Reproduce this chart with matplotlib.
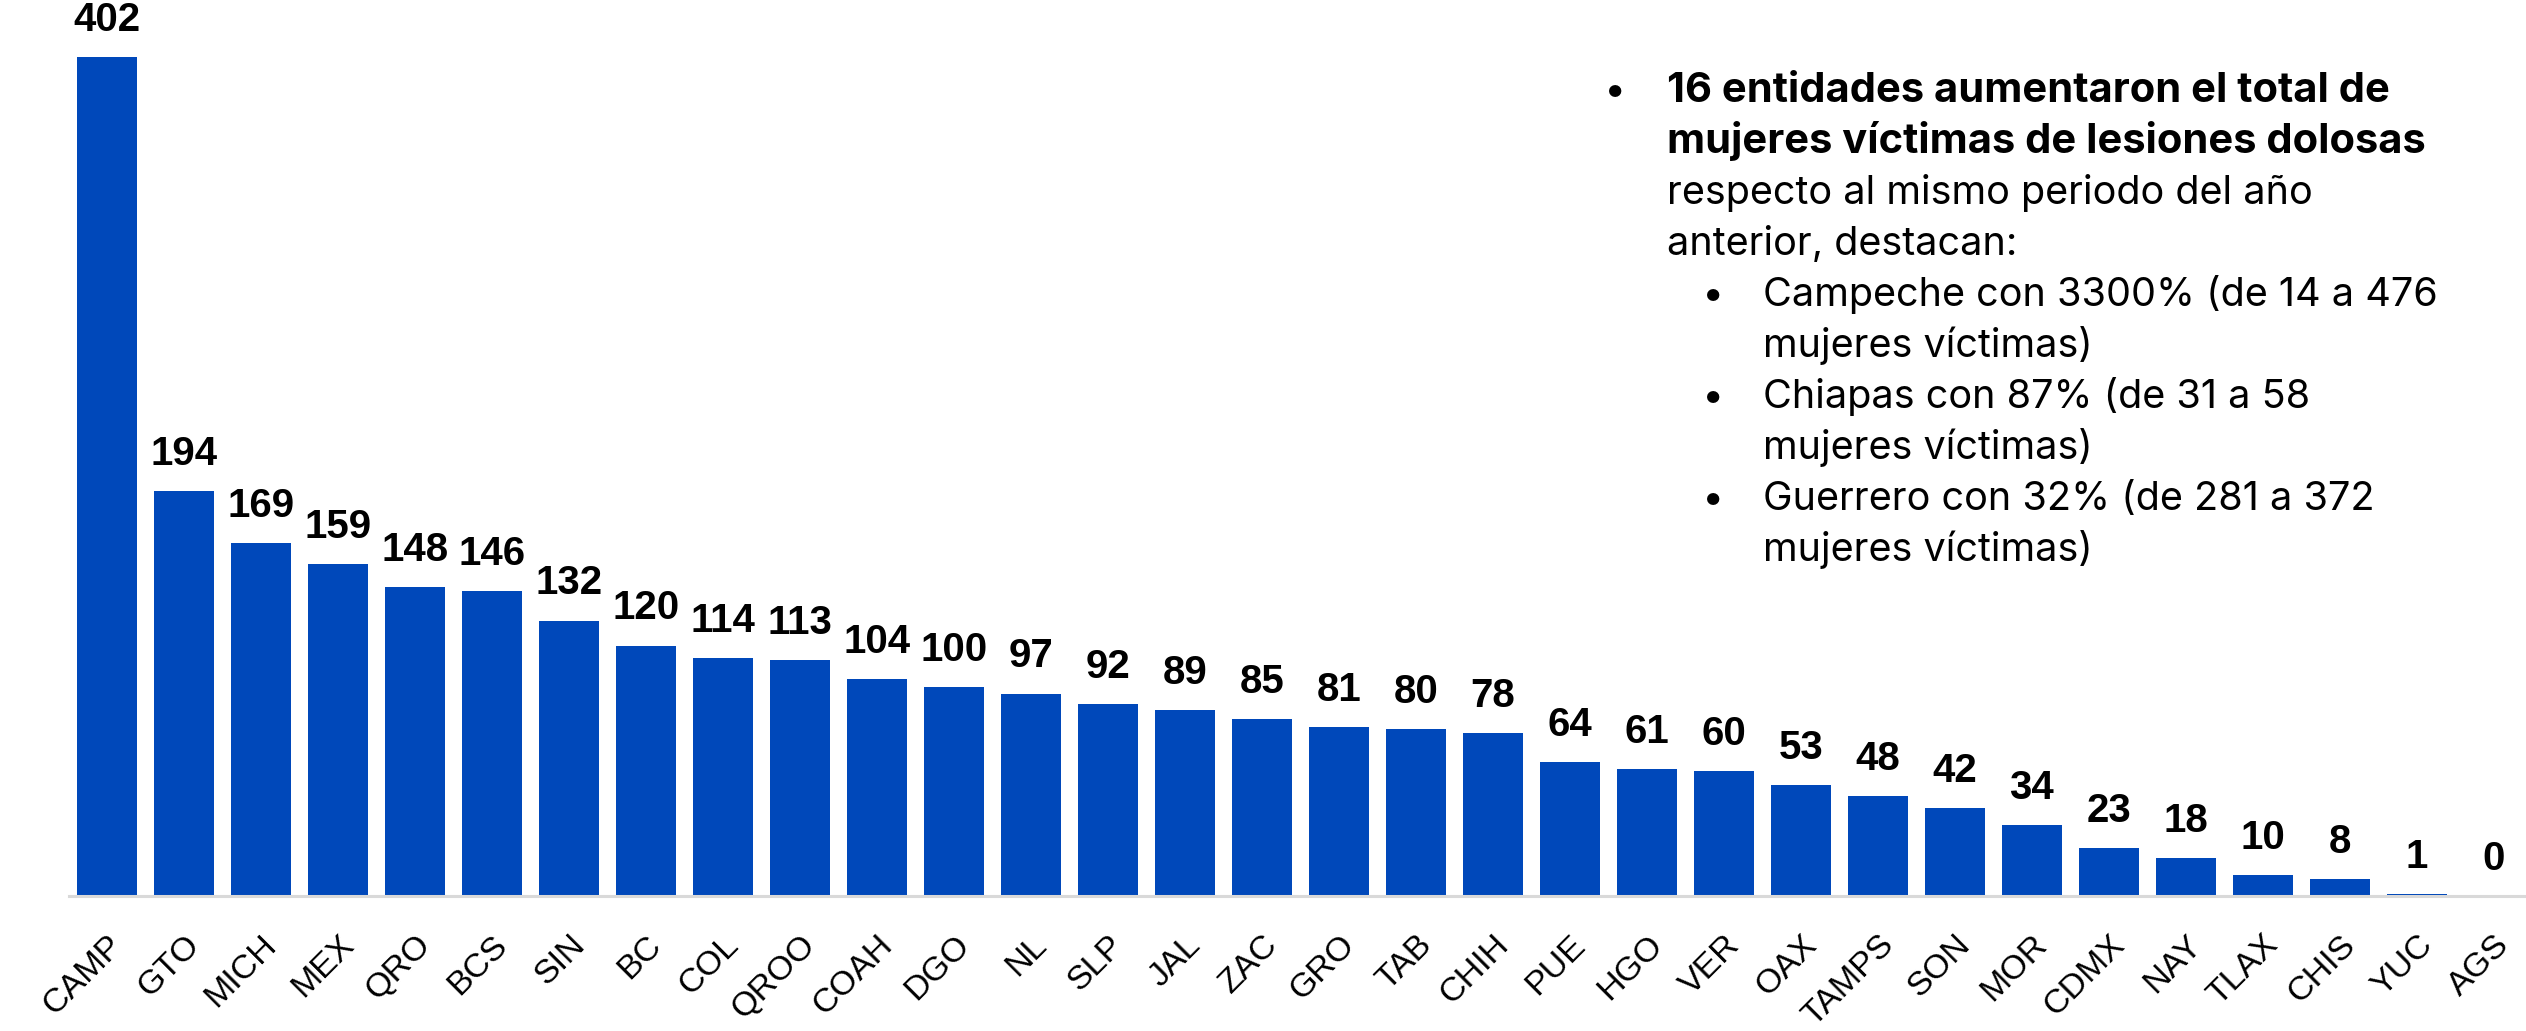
import matplotlib
matplotlib.use("Agg")
import matplotlib.pyplot as plt

# ---- data ----
states = ["CAMP", "GTO", "MICH", "MEX", "QRO", "BCS", "SIN", "BC", "COL", "QROO",
          "COAH", "DGO", "NL", "SLP", "JAL", "ZAC", "GRO", "TAB", "CHIH", "PUE",
          "HGO", "VER", "OAX", "TAMPS", "SON", "MOR", "CDMX", "NAY", "TLAX", "CHIS",
          "YUC", "AGS"]
values = [402, 194, 169, 159, 148, 146, 132, 120, 114, 113,
          104, 100, 97, 92, 89, 85, 81, 80, 78, 64,
          61, 60, 53, 48, 42, 34, 23, 18, 10, 8,
          1, 0]

note_bold = ["16 entidades aumentaron el total de",
             "mujeres víctimas de lesiones dolosas"]
note_plain = ["respecto al mismo periodo del año",
              "anterior, destacan:"]
sub_items = [["Campeche con 3300% (de 14 a 476", "mujeres víctimas)"],
             ["Chiapas con 87% (de 31 a 58", "mujeres víctimas)"],
             ["Guerrero con 32% (de 281 a 372", "mujeres víctimas)"]]

W, H = 2526, 1031
BAR = "#0048BA"

fig = plt.figure(figsize=(W / 100, H / 100), dpi=100)
ax = fig.add_axes([69 / W, (H - 896) / H, 1 - 69 / W, 896 / H])

x = list(range(len(states)))
ax.bar(x, values, width=0.78, color=BAR)
ax.set_xlim(-0.494, 31.42)
ax.set_ylim(0, 429.3)

for xi, v in zip(x, values):
    ax.annotate(str(v), (xi, v), xytext=(0, 13), textcoords="offset points",
                ha="center", va="bottom", fontsize=29, fontweight="bold",
                family="Liberation Sans", color="black")

ax.set_xticks(x)
ax.set_xticklabels(states, rotation=45, ha="right", va="top",
                   rotation_mode="anchor", fontsize=24.5,
                   family="Liberation Sans")
ax.tick_params(axis="x", length=0, pad=24)
ax.set_yticks([])
for s in ["top", "right", "left"]:
    ax.spines[s].set_visible(False)
ax.spines["bottom"].set_color("#D9D9D9")
ax.spines["bottom"].set_linewidth(2.2)


def ftext(px, py, s, size=28.5, **kw):
    fig.text(px / W, 1 - py / H, s, va="baseline", ha="left",
             family="Inter", fontsize=size, color="black", **kw)


base = 102
step = 51
row = 0
ftext(1604, base, "•")
for line in note_bold:
    ftext(1667, base + row * step, line, size=30, fontweight="bold")
    row += 1
for line in note_plain:
    ftext(1667, base + row * step, line)
    row += 1
for item in sub_items:
    ftext(1702, base + row * step, "•")
    for line in item:
        ftext(1763, base + row * step, line)
        row += 1

fig.savefig("out.png", dpi=100)
